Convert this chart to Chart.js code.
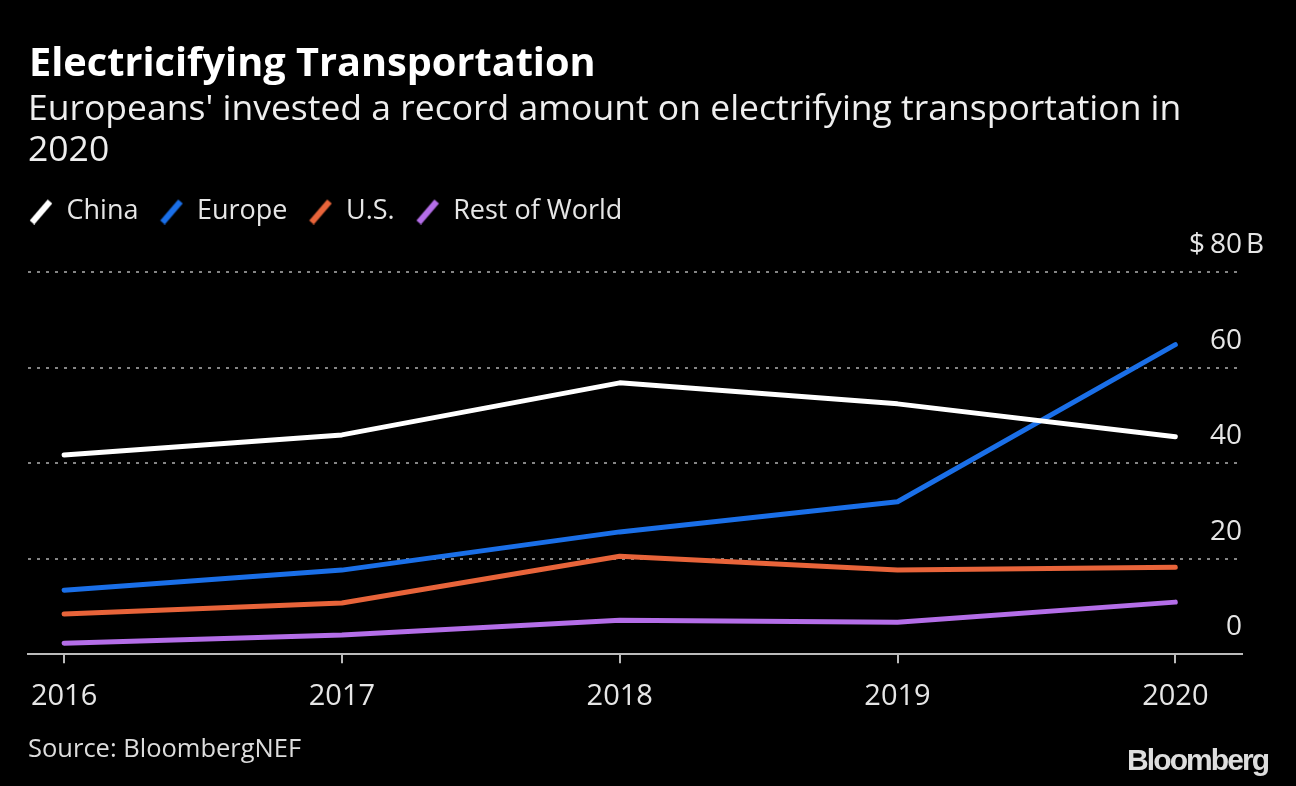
<!DOCTYPE html>
<html>
<head>
<meta charset="utf-8">
<script src="https://cdn.jsdelivr.net/npm/chart.js@4.4.1/dist/chart.umd.min.js"></script>
<style>
  html, body { margin: 0; padding: 0; background: #000; }
  body { width: 1296px; height: 786px; position: relative; overflow: hidden; font-family: "Open Sans", sans-serif; }
  #title { position: absolute; left: 29px; top: 37px; color: #fff; font-weight: 700; font-size: 39.7px; line-height: 48px; white-space: nowrap; }
  #subtitle { position: absolute; left: 28px; top: 86px; color: #eee; font-size: 35.5px; line-height: 41px; white-space: nowrap; }
  #source { position: absolute; left: 28px; top: 730px; color: #ddd; font-size: 25.5px; }
  #logo { position: absolute; left: 1127px; top: 743px; color: #ddd; font-family: "Liberation Sans", Arial, sans-serif; font-weight: 700; font-size: 30px; letter-spacing: -1.9px; }
  #wrap { position: absolute; left: 0; top: 0; width: 1296px; height: 786px; }
</style>
</head>
<body>
<div id="wrap"><canvas id="c"></canvas></div>
<div id="title">Electricifying Transportation</div>
<div id="subtitle">Europeans' invested a record amount on electrifying transportation in<br>2020</div>
<div id="source">Source: BloombergNEF</div>
<div id="logo">Bloomberg</div>
<script>
const years = [2016, 2017, 2018, 2019, 2020];
const seriesNames = ["China", "Europe", "U.S.", "Rest of World"];
const china = [41.7, 45.9, 56.8, 52.4, 45.5];
const europe = [13.4, 17.6, 25.6, 31.9, 64.8];
const us = [8.4, 10.7, 20.5, 17.6, 18.2];
const restOfWorld = [2.3, 4.0, 7.1, 6.7, 10.9];
const yTicks = [0, 20, 40, 60, 80];
const colors = ["#ffffff", "#1a6fe8", "#e8643a", "#b46ee8"];

function marker(color) {
  const c = document.createElement('canvas');
  c.width = 24; c.height = 26;
  const g = c.getContext('2d');
  g.strokeStyle = color; g.lineWidth = 6; g.lineCap = 'butt';
  g.beginPath(); g.moveTo(3, 24); g.lineTo(21, 3); g.stroke();
  return c;
}

const allValues = [china, europe, us, restOfWorld];
const datasets = allValues.map((vals, i) => ({
  label: seriesNames[i],
  data: years.map((y, j) => ({ x: y, y: vals[j] })),
  borderColor: colors[i],
  backgroundColor: colors[i],
  borderWidth: 5,
  pointRadius: 0,
  pointHoverRadius: 0,
  pointStyle: marker(colors[i]),
  borderCapStyle: 'round',
  borderJoinStyle: 'round',
  tension: 0
}));

const LEGEND_PAD = 21;
const legendPlace = {
  id: 'legendPlace',
  afterLayout(chart) {
    const lg = chart.legend;
    if (!lg) return;
    const w = lg.right - lg.left;
    const h = lg.bottom - lg.top;
    lg.left = 29 - LEGEND_PAD;
    lg.right = lg.left + w;
    lg.top = 177;
    lg.bottom = lg.top + h;
  }
};

const dollarPlugin = {
  id: 'dollarPlugin',
  afterDraw(chart) {
    const s = chart.scales.y;
    const ctx = chart.ctx;
    const top = yTicks[yTicks.length - 1];
    const y = s.getPixelForValue(top) - 27;
    const x = chart.chartArea.right + 1;
    ctx.save();
    ctx.font = '28px "Open Sans", sans-serif';
    ctx.fillStyle = '#e6e6e6';
    ctx.textBaseline = 'middle';
    const w = ctx.measureText(String(top)).width;
    ctx.textAlign = 'right';
    ctx.fillText('$', x - w - 6, y);
    ctx.textAlign = 'left';
    ctx.fillText('B', x + 3, y);
    ctx.restore();
  }
};

Chart.defaults.font.family = '"Open Sans", sans-serif';
Chart.defaults.color = '#e6e6e6';

new Chart(document.getElementById('c'), {
  type: 'line',
  data: { datasets },
  options: {
    responsive: true,
    maintainAspectRatio: false,
    animation: false,
    events: [],
    layout: { padding: { top: 214, left: 28, right: 54, bottom: 56 } },
    plugins: {
      title: { display: false },
      tooltip: { enabled: false },
      legend: {
        display: true,
        position: 'top',
        align: 'start',
        labels: {
          usePointStyle: true,
          boxWidth: 24,
          boxHeight: 26,
          color: '#e6e6e6',
          font: { size: 27 },
          padding: LEGEND_PAD
        }
      }
    },
    scales: {
      x: {
        type: 'linear',
        min: 2015.87,
        max: 2020.24,
        afterBuildTicks: (scale) => { scale.ticks = years.map(v => ({ value: v })); },
        grid: { display: true, drawOnChartArea: false, drawTicks: true, tickLength: 9, color: '#bbbbbb', lineWidth: 2 },
        border: { display: true, color: '#bbbbbb', width: 2 },
        ticks: { font: { size: 29 }, color: '#e6e6e6', padding: 16, maxRotation: 0, callback: (v) => String(v) }
      },
      y: {
        position: 'right',
        min: 0,
        max: 80,
        afterBuildTicks: (scale) => { scale.ticks = yTicks.map(v => ({ value: v })); },
        grid: { color: '#858585', lineWidth: 2, drawTicks: false },
        border: { display: false, dash: [3, 6] },
        ticks: { mirror: true, padding: 0, labelOffset: -27, font: { size: 28 }, color: '#e6e6e6', callback: (v) => String(v) }
      }
    }
  },
  plugins: [legendPlace, dollarPlugin]
});
</script>
</body>
</html>
